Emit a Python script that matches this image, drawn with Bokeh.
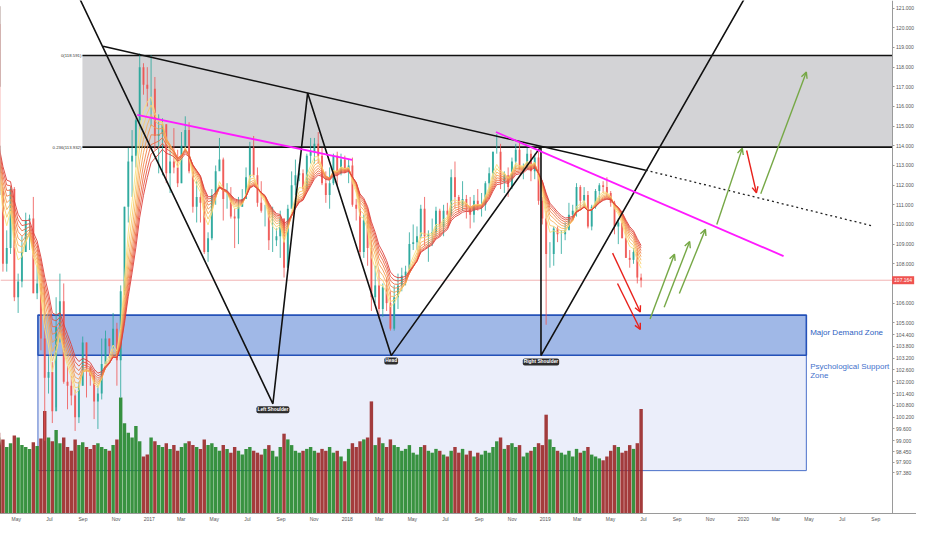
import numpy as np
import pandas as pd
from bokeh.plotting import figure
from bokeh.models import (Range1d, FixedTicker, CustomJSTickFormatter, Label, Arrow,
                          OpenHead, ColumnDataSource, PrintfTickFormatter, LinearAxis)
from bokeh.embed import file_html
from bokeh.resources import INLINE

# ---------------- data (weekly USD/JPY, week starting Monday) ----------------
week_start = "2016-01-04"
first_open = 120.2
closes = [
    # 2016
    117.2, 117.0, 118.8, 121.1, 116.9, 113.2, 112.6, 114.0, 113.8, 113.8, 111.5, 113.0, 111.7,
    108.0, 108.8, 111.8, 106.3, 107.1, 108.6, 110.2, 110.3, 106.5, 107.0, 104.2, 102.2, 102.5,
    100.5, 104.8, 106.1, 102.0, 101.8, 101.3, 100.2, 101.8, 104.0, 102.7, 102.3, 101.0, 101.4,
    102.9, 104.2, 103.8, 104.7, 103.1, 106.6, 110.9, 113.2, 113.5, 115.3, 118.0, 117.1, 116.9,
    # 2017
    116.9, 114.5, 114.6, 115.1, 112.6, 113.2, 112.9, 112.1, 114.0, 114.8, 112.7, 110.9, 111.4,
    111.1, 108.6, 109.3, 111.5, 112.7, 113.3, 111.3, 111.3, 110.4, 110.3, 110.9, 111.3, 112.4,
    113.9, 112.5, 111.1, 110.7, 110.7, 109.2, 109.2, 109.4, 110.3, 107.8, 110.8, 112.0, 112.5,
    112.6, 111.8, 113.5, 113.7, 114.1, 113.5, 112.1, 111.5, 112.1, 113.5, 112.6, 113.3, 112.7,
    # 2018
    113.0, 111.0, 110.8, 108.6, 110.2, 108.8, 106.3, 106.9, 105.7, 106.8, 106.0, 104.7, 106.3,
    106.9, 107.4, 107.6, 109.0, 109.1, 109.4, 110.8, 109.4, 109.5, 109.6, 110.7, 109.9, 110.7,
    110.5, 112.4, 111.4, 111.0, 111.3, 110.9, 110.5, 111.2, 111.0, 111.0, 112.1, 112.6, 113.7,
    113.7, 112.2, 112.5, 111.9, 113.2, 113.8, 112.8, 112.9, 113.6, 112.7, 113.4, 111.2, 110.3, 108.5,
    # 2019
    108.5, 109.8, 109.5, 109.5, 109.7, 110.5, 110.7, 111.9, 111.2, 111.5, 109.9, 110.9, 111.7,
    112.0, 111.9, 111.6, 111.1, 109.9, 110.1, 109.3, 108.3, 108.2, 108.6, 107.3, 107.164,
]
highs = [
    120.6, 118.8, 118.9, 121.7, 121.0, 117.6, 114.9, 114.0, 114.6, 114.2, 114.0, 113.3, 113.8,
    111.9, 109.7, 111.9, 111.9, 107.5, 109.4, 110.6, 110.5, 111.4, 107.9, 107.0, 106.8, 103.3,
    103.0, 106.3, 107.5, 107.0, 102.8, 102.3, 101.6, 102.0, 104.3, 104.0, 102.8, 102.6, 101.8,
    104.2, 104.6, 104.2, 105.5, 105.0, 106.9, 110.9, 113.9, 114.8, 115.4, 118.7, 118.2, 118.0,
    118.6, 117.5, 115.6, 115.4, 115.1, 114.0, 114.9, 113.8, 114.7, 115.5, 115.2, 113.0, 112.2,
    111.6, 111.2, 109.6, 111.8, 113.0, 114.4, 113.4, 112.1, 111.9, 110.8, 111.4, 111.8, 112.9,
    114.2, 114.5, 112.9, 112.2, 111.0, 111.0, 110.9, 109.8, 110.7, 110.3, 111.0, 112.7, 113.3,
    113.1, 112.8, 113.6, 114.4, 114.4, 114.7, 113.9, 112.7, 112.9, 113.6, 113.7, 113.6, 113.5,
    113.3, 113.4, 111.3, 111.2, 110.5, 110.5, 109.2, 107.9, 107.7, 107.0, 107.3, 106.6, 106.9,
    107.5, 107.8, 107.9, 109.6, 110.0, 109.9, 111.0, 111.4, 109.7, 110.3, 110.9, 110.8, 111.0,
    111.1, 112.8, 113.2, 111.5, 112.2, 111.5, 111.4, 111.5, 111.8, 111.6, 112.2, 112.9, 113.7,
    114.6, 114.1, 112.7, 112.9, 113.4, 114.1, 114.2, 113.1, 113.9, 113.8, 113.6, 113.7, 111.4, 110.7,
    109.1, 109.9, 109.9, 109.7, 110.1, 111.1, 111.0, 112.1, 112.0, 111.9, 111.7, 111.0, 111.8,
    112.1, 112.2, 112.4, 111.7, 111.2, 110.3, 110.7, 109.9, 108.7, 108.8, 108.8, 107.5,
]
lows = [
    116.7, 116.5, 115.9, 118.1, 116.5, 110.9, 112.2, 111.0, 112.1, 112.3, 110.7, 111.3, 111.4,
    107.6, 107.6, 108.5, 106.1, 105.5, 106.8, 108.6, 108.7, 106.5, 106.2, 103.6, 99.0, 101.4,
    99.9, 100.7, 104.0, 101.9, 100.6, 100.8, 99.5, 99.9, 101.8, 101.2, 101.8, 100.1, 99.6,
    101.1, 102.9, 103.2, 103.7, 101.8, 101.2, 106.4, 110.1, 111.4, 112.9, 114.8, 116.6, 116.0,
    115.0, 113.8, 112.6, 112.5, 112.1, 111.6, 112.6, 111.9, 112.1, 113.7, 112.6, 110.6, 110.1,
    110.1, 108.5, 108.1, 109.2, 111.0, 112.8, 110.2, 110.8, 110.3, 108.8, 109.0, 110.9, 111.4,
    112.1, 112.4, 110.9, 110.6, 109.9, 108.7, 108.6, 108.9, 108.3, 107.3, 107.9, 110.9, 111.5,
    112.2, 111.7, 111.7, 113.1, 113.1, 113.1, 112.0, 111.1, 110.8, 112.0, 112.0, 112.5, 112.6,
    112.1, 110.9, 110.2, 108.3, 108.3, 107.9, 105.6, 106.0, 105.2, 105.3, 105.6, 104.6, 104.6,
    105.7, 106.6, 106.9, 107.6, 108.7, 108.7, 109.3, 108.9, 108.1, 108.9, 109.4, 109.4, 109.4,
    110.3, 110.4, 110.8, 110.6, 110.7, 110.3, 109.8, 110.1, 110.7, 110.4, 110.7, 111.6, 112.3,
    113.6, 111.8, 111.6, 111.4, 111.8, 112.8, 112.8, 112.3, 112.8, 112.2, 112.3, 111.0, 110.0, 104.9,
    107.8, 107.9, 109.1, 108.5, 109.2, 109.8, 110.3, 110.4, 110.8, 110.9, 109.8, 109.7, 110.8,
    111.1, 111.6, 111.4, 110.9, 109.5, 109.0, 109.3, 108.3, 107.8, 108.0, 107.0, 106.8,
]
volumes = [
    72, 68, 75, 80, 78, 85, 74, 70, 72, 69, 76, 71, 73,
    78, 70, 74, 82, 80, 72, 70, 68, 75, 71, 79, 108, 80,
    76, 88, 74, 80, 70, 66, 78, 72, 75, 70, 68, 72, 74,
    70, 68, 66, 72, 78, 122, 95, 85, 80, 92, 76, 60, 62,
    80, 76, 72, 70, 74, 68, 72, 66, 70, 74, 76, 72, 70,
    68, 78, 72, 74, 70, 66, 72, 68, 64, 70, 66, 62, 68,
    70, 66, 64, 62, 68, 72, 66, 60, 70, 84, 78, 72, 66,
    64, 66, 68, 70, 66, 64, 68, 66, 70, 64, 66, 60, 55,
    68, 74, 70, 76, 78, 80, 118, 72, 80, 74, 70, 78, 72,
    70, 66, 68, 72, 64, 62, 70, 72, 66, 64, 68, 66, 62,
    60, 66, 70, 64, 68, 62, 66, 60, 64, 62, 66, 64, 70,
    76, 80, 68, 72, 74, 70, 72, 60, 64, 66, 70, 74, 72, 104,
    78, 70, 66, 64, 62, 66, 60, 68, 64, 66, 70, 62, 60,
    58, 56, 60, 66, 72, 70, 64, 66, 72, 68, 74, 110,
]
ema_spans = [4, 5, 6, 7, 8, 9, 10, 11]

price_ticks = [121, 120, 119, 118, 117, 116, 115, 114, 113, 112, 111, 110, 109, 108, 106,
               105, 104.4, 103.8, 103.2, 102.6, 102.0, 101.4, 100.8, 100.2, 99.6, 99.0,
               98.45, 97.9, 97.38]
month_ticks = ["2016-05-01", "2016-07-01", "2016-09-01", "2016-11-01", "2017-01-01",
               "2017-03-01", "2017-05-01", "2017-07-01", "2017-09-01", "2017-11-01",
               "2018-01-01", "2018-03-01", "2018-05-01", "2018-07-01", "2018-09-01",
               "2018-11-01", "2019-01-01", "2019-03-01", "2019-05-01", "2019-07-01",
               "2019-09-01", "2019-11-01", "2020-01-01", "2020-03-01", "2020-05-01",
               "2020-07-01", "2020-09-01"]
last_price = 107.164

# drawings (date, price anchors)
fib_levels = [118.591, 113.932]
fib_texts = ["0(118.591)", "0.236(113.932)"]
fib_start = "2016-08-31"
zone_dates = ["2016-06-10", "2020-04-26"]
demand_zone = [105.39, 103.35]
support_zone = [103.35, 97.48]
hs_dates = ["2016-08-15", "2017-08-17", "2017-10-20", "2018-03-23", "2018-12-24",
            "2018-12-24", "2020-01-16"]
hs_prices = [122.12, 100.88, 116.69, 103.33, 113.97, 103.33, 122.12]
hs_names = ["Left Shoulder", "Head", "Right Shoulder"]
hs_label_dates = ["2017-08-17", "2018-03-23", "2018-12-24"]
hs_label_prices = [100.58, 103.06, 103.01]
trend_dates = ["2016-10-08", "2019-07-05"]
trend_prices = [119.06, 112.76]
trend_ext_dates = ["2019-07-05", "2020-08-24"]
trend_ext_prices = [112.76, 109.94]
mag1_dates = ["2016-12-10", "2018-01-10"]
mag1_prices = [115.57, 113.29]
mag2_dates = ["2018-10-02", "2020-03-15"]
mag2_prices = [114.70, 108.39]
red_arrows = {"d0": ["2019-05-05", "2019-05-14", "2020-01-07"],
              "p0": [108.54, 107.00, 113.76],
              "d1": ["2019-06-25", "2019-06-25", "2020-01-25"],
              "p1": [105.55, 104.66, 111.61]}
green_arrows = {"d0": ["2019-07-13", "2019-08-08", "2019-09-05", "2019-11-13", "2020-02-02"],
                "p0": [105.19, 105.79, 106.49, 110.00, 111.56],
                "d1": ["2019-08-27", "2019-09-24", "2019-10-23", "2019-12-30", "2020-04-26"],
                "p1": [108.49, 109.13, 109.75, 113.87, 117.75]}

# ---------------- build ----------------
def ms(lst):
    return list(pd.to_datetime(lst).values.astype("datetime64[ms]").astype("int64"))

weeks = pd.date_range(week_start, periods=len(closes), freq="7D")
centers = weeks + pd.Timedelta(hours=60)
opens = [first_open] + closes[:-1]
df = pd.DataFrame({"x": centers, "o": opens, "h": highs, "l": lows, "c": closes, "v": volumes})
df["top"] = df[["o", "c"]].max(axis=1)
df["bot"] = df[["o", "c"]].min(axis=1)
up = df["c"] >= df["o"]
df["col"] = np.where(up, "#26a69a", "#ef5350")
df["vcol"] = np.where(up, "#23862b", "#9a2727")

x_start = pd.Timestamp("2016-04-02")
x_end = pd.Timestamp("2020-11-15")
scale_at = ms(["2020-10-01"])[0]   # where the price scale sits
y0, y1 = 95.30, 121.39
FONT = "Liberation Sans"

p = figure(width=916, height=524, x_axis_type="datetime", y_axis_location=None,
           x_range=Range1d(x_start, x_end), y_range=Range1d(y0, y1),
           output_backend="svg", toolbar_location=None,
           min_border_left=0, min_border_top=0, min_border_bottom=0, min_border_right=0)
p.extra_y_ranges = {"vol": Range1d(0, 540)}
p.xgrid.visible = False
p.ygrid.visible = False
p.outline_line_color = None
p.background_fill_color = "white"

# zones
fx0 = ms([fib_start])[0]
zx0, zx1 = ms(zone_dates)
p.quad(left=[fx0], right=[scale_at], top=[fib_levels[0]], bottom=[fib_levels[1]],
       fill_color="#d3d3d6", line_color=None)
for lvl in fib_levels:
    p.line([fx0, scale_at], [lvl, lvl], line_color="#111111", line_width=1.6)
p.quad(left=[zx0], right=[zx1], top=[support_zone[0]], bottom=[support_zone[1]],
       fill_color="#e9ecf9", fill_alpha=0.9, line_color="#4a6fc9", line_width=1)
p.quad(left=[zx0], right=[zx1], top=[demand_zone[0]], bottom=[demand_zone[1]],
       fill_color="#8fabe3", fill_alpha=0.85, line_color="#2451b8", line_width=1.6)

# volume
src = ColumnDataSource(df)
p.vbar(x="x", top="v", bottom=0, width=6.3 * 86400000, fill_color="vcol", line_color=None,
       fill_alpha=0.9, y_range_name="vol", source=src)

# last price line
p.line([ms([x_start])[0], scale_at], [last_price, last_price], line_color="#f2b3b3", line_width=1)

# candles
p.segment(x0="x", y0="h", x1="x", y1="l", line_color="col", line_alpha=0.8, line_width=1,
          source=src)
p.vbar(x="x", top="top", bottom="bot", width=3.6 * 86400000, fill_color="col",
       line_color=None, fill_alpha=0.85, source=src)

# EMA ribbon
ribbon_cols = ["#f9e27d", "#f8cd6c", "#f6b55e", "#f49d53", "#f0844b", "#ec6c45", "#e65541", "#dc3f3b"]
cs = pd.Series(closes)
for span, col in zip(ema_spans, ribbon_cols):
    p.line(list(centers), list(cs.ewm(span=span, adjust=False).mean()), line_color=col,
           line_width=1, line_alpha=0.9)

# drawings
p.line(ms(hs_dates), hs_prices, line_color="#111111", line_width=1.6)
p.line(ms(trend_dates), trend_prices, line_color="#111111", line_width=1.6)
p.line(ms(trend_ext_dates), trend_ext_prices, line_color="#222222", line_width=1.3,
       line_dash="2 3")
p.line(ms(mag1_dates), mag1_prices, line_color="#ff1aff", line_width=1.8)
p.line(ms(mag2_dates), mag2_prices, line_color="#ff1aff", line_width=1.8)

for arr, col in ((red_arrows, "#e8201b"), (green_arrows, "#76a846")):
    s = ColumnDataSource({"x0": ms(arr["d0"]), "y0": arr["p0"], "x1": ms(arr["d1"]), "y1": arr["p1"]})
    p.add_layout(Arrow(x_start="x0", y_start="y0", x_end="x1", y_end="y1", source=s,
                       line_color=col, line_width=1.4,
                       end=OpenHead(size=6, line_color=col, line_width=1.4)))

# labels
for lvl, t in zip(fib_levels, fib_texts):
    p.add_layout(Label(x=fx0, y=lvl, x_offset=-1, text=t, text_align="right",
                       text_baseline="middle", text_font_size="4.3px", text_color="#333333",
                       text_font=FONT))
for d, pr, t in zip(ms(hs_label_dates), hs_label_prices, hs_names):
    p.add_layout(Label(x=d, y=pr, text=t, text_align="center", text_baseline="middle",
                       text_font_size="4.8px", text_color="white", text_font=FONT,
                       text_font_style="bold",
                       background_fill_color="#2e2e2e", padding=1, border_radius=2))
lx = ms(["2020-05-03"])[0]
p.add_layout(Label(x=lx, y=104.51, text="Major Demand Zone", text_baseline="middle",
                   text_font_size="8px", text_color="#2f5fbf", text_font=FONT))
p.add_layout(Label(x=lx, y=102.77, text="Psychological Support", text_baseline="middle",
                   text_font_size="8px", text_color="#4472cc", text_font=FONT))
p.add_layout(Label(x=lx, y=102.33, text="Zone", text_baseline="middle",
                   text_font_size="8px", text_color="#4472cc", text_font=FONT))

# price scale
ya = LinearAxis(fixed_location=scale_at, axis_label=None)
ya.ticker = FixedTicker(ticks=price_ticks)
ya.formatter = PrintfTickFormatter(format="%.3f")
ya.major_label_text_font_size = "5px"
ya.major_label_text_color = "#555555"
ya.major_label_text_font = FONT
ya.axis_line_color = "#9a9a9a"
ya.major_tick_line_color = "#9a9a9a"
ya.major_tick_out = 2
ya.major_tick_in = 0
ya.minor_tick_out = 0
ya.minor_tick_in = 0
ya.minor_tick_line_color = None
ya.major_label_standoff = 2
ya.axis_label_standoff = 0
ya.axis_label_text_font_size = "0px"
p.add_layout(ya, "right")

p.add_layout(Label(x=scale_at, y=last_price, x_offset=0, text=f"{last_price:.3f}",
                   text_align="left", text_baseline="middle", text_font_size="5px",
                   text_color="white", text_font=FONT,
                   background_fill_color="#ef5350", padding=2))

xa = p.xaxis[0]
xa.axis_label = None
xa.axis_label_standoff = 0
xa.axis_label_text_font_size = "0px"
xa.ticker = FixedTicker(ticks=ms(month_ticks))
xa.formatter = CustomJSTickFormatter(code="""
const d = new Date(tick);
const m = d.getUTCMonth();
const n = ['Jan','Feb','Mar','Apr','May','Jun','Jul','Aug','Sep','Oct','Nov','Dec'];
return m == 0 ? String(d.getUTCFullYear()) : n[m];
""")
xa.major_label_text_font_size = "5px"
xa.major_label_text_color = "#555555"
xa.major_label_text_font = FONT
xa.axis_line_color = "#9a9a9a"
xa.major_tick_line_color = None
xa.minor_tick_line_color = None
xa.major_tick_out = 0
xa.major_tick_in = 0
xa.minor_tick_out = 0
xa.minor_tick_in = 0
xa.major_label_standoff = 2

open("out.html", "w").write(file_html(p, INLINE))
